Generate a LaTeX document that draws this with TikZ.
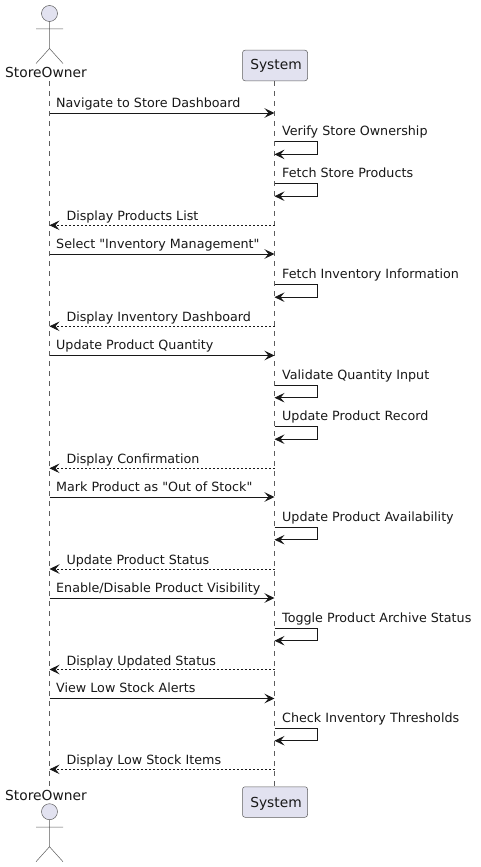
\documentclass[tikz,border=0pt]{standalone}
\usepackage{fontspec}
\newfontfamily\plantfont{DejaVu Sans}
\usetikzlibrary{arrows.meta}
\definecolor{partfill}{HTML}{E2E2F0}
\definecolor{ink}{HTML}{181818}
\tikzset{
  x=1pt,y=-1pt,
  lifeline/.style={draw=ink!70,line width=0.5pt,dash pattern=on 5pt off 5pt},
  partbox/.style={draw=ink!70,line width=0.5pt,fill=partfill,rounded corners=2.5pt,minimum width=65pt,minimum height=30.5pt,inner sep=0pt},
  partname/.style={inner sep=0pt,anchor=base,font=\plantfont\fontsize{13.8}{15}\selectfont,text=ink},
  actorline/.style={draw=ink!70,line width=0.5pt},
  msg/.style={draw=ink,line width=0.95pt,-{Stealth[length=10pt,width=9.5pt,inset=4pt]}},
  ret/.style={draw=ink,line width=0.7pt,dash pattern=on 2pt off 2pt,-{Stealth[length=10pt,width=9.5pt,inset=4pt]}},
  lbl/.style={inner sep=0pt,anchor=base west,font=\plantfont\fontsize{12.7}{15}\selectfont,text=ink},
}
\newcounter{mm}
\newcommand{\rightmsg}[2]{\stepcounter{mm}%
  \coordinate (a\themm) at (49.5,#1); \coordinate (b\themm) at (274.5,#1);
  \draw[msg] (a\themm) -- (b\themm);
  \node[lbl] (t\themm) at (56,#1-6) {#2};}
\newcommand{\leftmsg}[2]{\stepcounter{mm}%
  \coordinate (a\themm) at (49.5,#1); \coordinate (b\themm) at (274.5,#1);
  \draw[ret] (b\themm) -- (a\themm);
  \node[lbl] (t\themm) at (66.3,#1-4.5) {#2};}
\newcommand{\selfmsg}[2]{\stepcounter{mm}%
  \coordinate (a\themm) at (274.5,#1); \coordinate (b\themm) at (274.5,#1+12.7); \coordinate (c\themm) at (317.5,#1);
  \draw[msg] (a\themm) -- (c\themm) |- (b\themm);
  \node[lbl] (t\themm) at (282,#1-6) {#2};}
\newcommand{\actorfig}[1]{%
  \draw[actorline,fill=partfill] (49.5,#1) circle (8);
  \draw[actorline] (49.5,#1+8) -- (49.5,#1+35) (36,#1+15.5) -- (63,#1+15.5) (36,#1+50) -- (49.5,#1+35) -- (63,#1+50);}
\begin{document}
\begin{tikzpicture}
\useasboundingbox (0,0) rectangle (480,867);
\fill[white] (0,0) rectangle (480,867);
\node[partname] (ownertop) at (46,77.5) {StoreOwner};
\node[partname] (ownerbot) at (46,800) {StoreOwner};
\node[partbox] (systop) at (275,65.5) {};
\node[partbox] (sysbot) at (275,802) {};
\node[partname] at (276,70) {System};
\node[partname] at (276,807) {System};
\coordinate (ownerlt) at (49.5,81);
\coordinate (ownerlb) at (49.5,786);
\draw[lifeline] (ownerlt) -- (ownerlb);
\draw[lifeline] (systop.south -| 274.5,0) -- (sysbot.north -| 274.5,0);
\actorfig{13.5}
\actorfig{811.7}
\rightmsg{113}{Navigate to Store Dashboard}
\selfmsg{141.7}{Verify Store Ownership}
\selfmsg{183.5}{Fetch Store Products}
\leftmsg{225.3}{Display Products List}
\rightmsg{254}{Select "Inventory Management"}
\selfmsg{284.5}{Fetch Inventory Information}
\leftmsg{326.3}{Display Inventory Dashboard}
\rightmsg{355.5}{Update Product Quantity}
\selfmsg{385}{Validate Quantity Input}
\selfmsg{426.5}{Update Product Record}
\leftmsg{468.3}{Display Confirmation}
\rightmsg{497}{Mark Product as "Out of Stock"}
\selfmsg{527}{Update Product Availability}
\leftmsg{569}{Update Product Status}
\rightmsg{598}{Enable/Disable Product Visibility}
\selfmsg{628}{Toggle Product Archive Status}
\leftmsg{669.5}{Display Updated Status}
\rightmsg{698.5}{View Low Stock Alerts}
\selfmsg{728}{Check Inventory Thresholds}
\leftmsg{769.3}{Display Low Stock Items}
\end{tikzpicture}
\end{document}
